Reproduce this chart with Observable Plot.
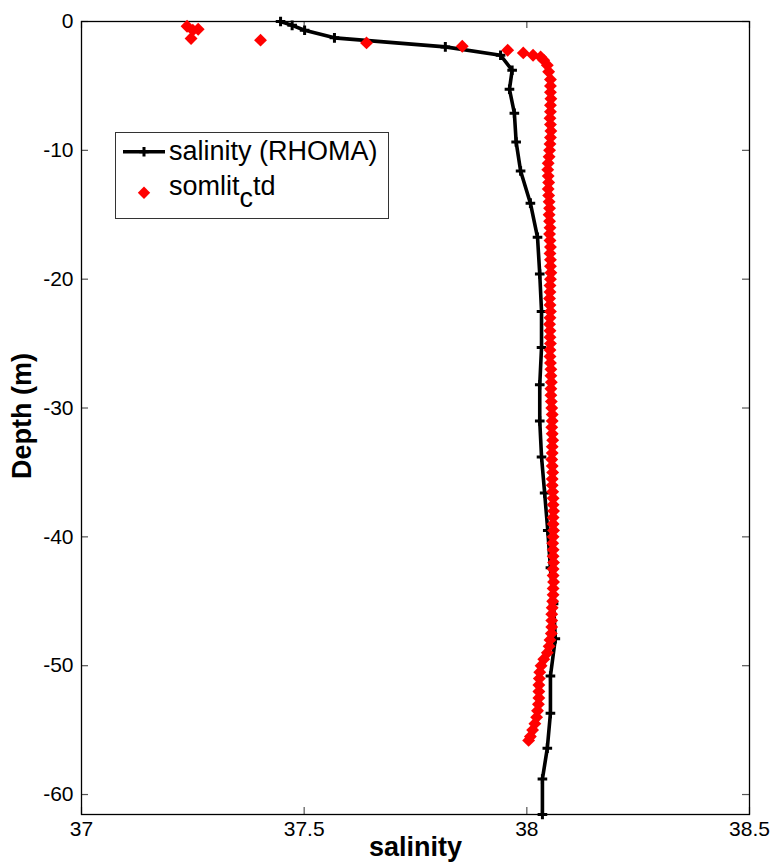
<!DOCTYPE html>
<html>
<head>
<meta charset="utf-8">
<script src="https://cdn.jsdelivr.net/npm/d3@7"></script>
<script src="https://cdn.jsdelivr.net/npm/@observablehq/plot@0.6"></script>
<style>
  html, body { margin: 0; padding: 0; background: white; }
  #wrap { position: relative; width: 771px; height: 867px; }
  #legend { position: absolute; left: 115px; top: 132px; }
  svg text { font-family: "Liberation Sans", Arial, sans-serif; }
</style>
</head>
<body>
<div id="wrap"></div>
<script>
// ---- data ----
const xTicks = [37, 37.5, 38, 38.5];
const xTickLabels = ["37", "37.5", "38", "38.5"];
const yTicks = [0, -10, -20, -30, -40, -50, -60];
const yTickLabels = ["0", "-10", "-20", "-30", "-40", "-50", "-60"];

// salinity (RHOMA) profile
const rhomaSal = [37.447, 37.473, 37.501, 37.568, 37.817, 37.941, 37.967, 37.961, 37.972, 37.976,
  37.986, 38.008, 38.024, 38.029, 38.033, 38.033, 38.029, 38.029, 38.033, 38.040,
  38.047, 38.053, 38.060, 38.064, 38.053, 38.053, 38.046, 38.035, 38.035];
const rhomaDepth = [0, -0.3, -0.68, -1.27, -1.97, -2.62, -3.78, -5.26, -7.12, -9.35,
  -11.6, -14.1, -16.75, -19.6, -22.5, -25.3, -28.2, -31.0, -33.8, -36.6,
  -39.5, -42.4, -45.2, -47.9, -50.8, -53.7, -56.4, -58.8, -61.55];

// somlit_ctd profile (each row of salinity aligns with the same row of depth)
const somSal = [
  37.237, 37.262, 37.250, 37.246, 37.402, 37.640, 37.855, 37.957, 37.992, 38.014,
  38.031, 38.038, 38.046, 38.049, 38.053,
  38.053, 38.053, 38.054, 38.053, 38.053, 38.052, 38.053, 38.054, 38.053, 38.052,
  38.051, 38.050, 38.048, 38.047, 38.048, 38.049, 38.048, 38.049, 38.050, 38.051,
  38.050, 38.051, 38.052, 38.051, 38.052, 38.053, 38.052, 38.053, 38.053, 38.054,
  38.053, 38.052, 38.052, 38.051, 38.052, 38.053, 38.052, 38.051, 38.052, 38.052,
  38.053, 38.052, 38.052, 38.053, 38.054, 38.054, 38.055, 38.054, 38.054, 38.055,
  38.056, 38.057, 38.057, 38.056, 38.057, 38.058, 38.057, 38.057, 38.056, 38.057,
  38.058, 38.057, 38.057, 38.058, 38.059, 38.059, 38.060, 38.059, 38.059, 38.060,
  38.059, 38.058, 38.059, 38.059, 38.060, 38.059, 38.059, 38.060,
  38.059, 38.059, 38.058, 38.057, 38.056, 38.056, 38.056, 38.055, 38.052, 38.050,
  38.046, 38.038, 38.032, 38.029, 38.028, 38.027, 38.027, 38.027, 38.026, 38.024,
  38.022, 38.018, 38.013, 38.008, 38.004];
const somDepth = [
  -0.37, -0.6, -0.67, -1.32, -1.45, -1.66, -1.92, -2.23, -2.44, -2.62,
  -2.75, -3.0, -3.4, -3.9, -4.5,
  -5.0, -5.5, -6.0, -6.5, -7.0, -7.5, -8.0, -8.5, -9.0, -9.5,
  -10.0, -10.5, -11.0, -11.5, -12.0, -12.5, -13.0, -13.5, -14.0, -14.5,
  -15.0, -15.5, -16.0, -16.5, -17.0, -17.5, -18.0, -18.5, -19.0, -19.5,
  -20.0, -20.5, -21.0, -21.5, -22.0, -22.5, -23.0, -23.5, -24.0, -24.5,
  -25.0, -25.5, -26.0, -26.5, -27.0, -27.5, -28.0, -28.5, -29.0, -29.5,
  -30.0, -30.5, -31.0, -31.5, -32.0, -32.5, -33.0, -33.5, -34.0, -34.5,
  -35.0, -35.5, -36.0, -36.5, -37.0, -37.5, -38.0, -38.5, -39.0, -39.5,
  -40.0, -40.5, -41.0, -41.5, -42.0, -42.5, -43.0, -43.5,
  -44.0, -44.5, -45.0, -45.5, -46.0, -46.5, -47.0, -47.5, -48.0, -48.5,
  -49.0, -49.5, -50.0, -50.5, -51.0, -51.5, -52.0, -52.5, -53.0, -53.5,
  -54.0, -54.5, -55.0, -55.5, -55.8];

// ---- build tables ----
const rhoma = rhomaSal.map((s, i) => ({sal: s, depth: rhomaDepth[i]}));
const som = somSal.map((s, i) => ({sal: s, depth: somDepth[i]}));

const W = 771, H = 867;
const mL = 81, mR = 22, mT = 21, mB = 53;
const plotW = W - mL - mR, plotH = H - mT - mB;
const tickLen = 7;

const chart = Plot.plot({
  width: W, height: H,
  marginLeft: mL, marginRight: mR, marginTop: mT, marginBottom: mB,
  x: {domain: [37, 38.5]},
  y: {domain: [-61.55, 0]},
  style: {fontFamily: '"Liberation Sans", Arial, sans-serif', background: "white", overflow: "visible", color: "black"},
  marks: [
    // inward ticks on all four sides
    Plot.ruleX(xTicks, {x: d => d, insetTop: plotH - tickLen, stroke: "#555", strokeWidth: 1.2}),
    Plot.ruleX(xTicks, {x: d => d, insetBottom: plotH - tickLen, stroke: "#555", strokeWidth: 1.2}),
    Plot.ruleY(yTicks, {y: d => d, insetRight: plotW - tickLen, stroke: "#555", strokeWidth: 1.2}),
    Plot.ruleY(yTicks, {y: d => d, insetLeft: plotW - tickLen, stroke: "#555", strokeWidth: 1.2}),
    Plot.frame({stroke: "black", strokeWidth: 1.3}),
    Plot.axisX(xTicks, {anchor: "bottom", tickSize: 0, tickPadding: 7, fontSize: 21,
      tickFormat: (d) => xTickLabels[xTicks.indexOf(d)], label: null}),
    Plot.axisY(yTicks, {anchor: "left", tickSize: 0, tickPadding: 8, fontSize: 21,
      tickFormat: (d) => yTickLabels[yTicks.indexOf(d)], label: null}),
    Plot.text(["salinity"], {frameAnchor: "bottom", dy: 41, textAnchor: "middle", fontWeight: "bold", fontSize: 27}),
    Plot.text(["Depth (m)"], {frameAnchor: "left", dx: -59, dy: -2, textAnchor: "middle", rotate: -90, fontWeight: "bold", fontSize: 27}),
    // salinity (RHOMA)
    Plot.line(rhoma, {x: "sal", y: "depth", stroke: "black", strokeWidth: 3.6}),
    Plot.dot(rhoma, {x: "sal", y: "depth", symbol: "plus", r: 3.2, stroke: "black", strokeWidth: 3}),
    // somlit_ctd (drawn on top)
    Plot.dot(som, {x: "sal", y: "depth", symbol: "diamond2", r: 5.8, fill: "#ff0000", stroke: "none"})
  ]
});

const wrap = document.getElementById("wrap");
wrap.appendChild(chart);

// legend (inside the axes, upper left)
const legend = document.createElement("div");
legend.id = "legend";
legend.innerHTML = `
<svg width="274" height="87" xmlns="http://www.w3.org/2000/svg">
  <rect x="0.5" y="0.5" width="273" height="86" fill="white" stroke="#333" stroke-width="1"/>
  <line x1="8" y1="19.7" x2="50" y2="19.7" stroke="black" stroke-width="3.6"/>
  <path d="M29,15V24.4M24.3,19.7H33.7" stroke="black" stroke-width="3"/>
  <text x="54" y="28" font-size="27" fill="black">salinity (RHOMA)</text>
  <path d="M29,54.5L35.2,60.7L29,66.9L22.8,60.7Z" fill="#ff0000"/>
  <text x="54" y="63" font-size="27" fill="black">somlit<tspan dy="12">c</tspan><tspan dy="-12">td</tspan></text>
</svg>`;
wrap.appendChild(legend);
</script>
</body>
</html>
